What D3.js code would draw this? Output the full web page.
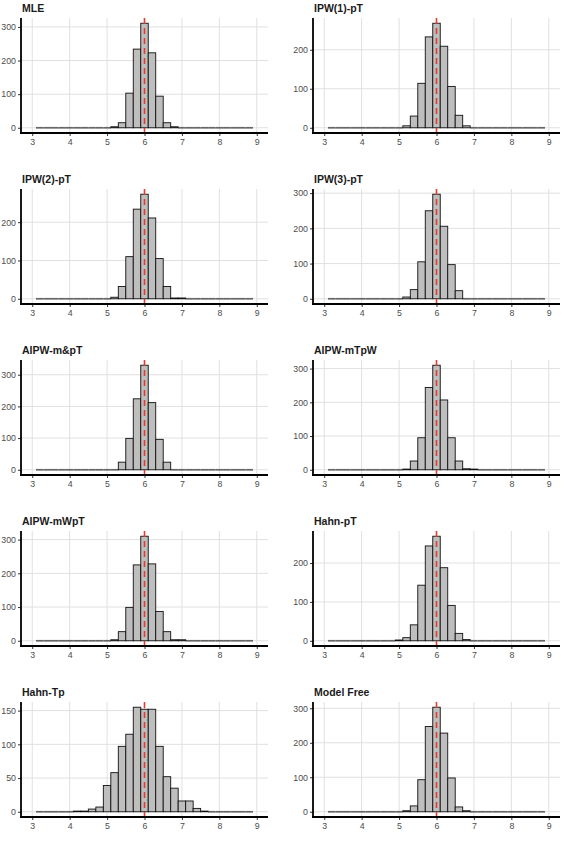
<!DOCTYPE html>
<html>
<head>
<meta charset="utf-8">
<script src="https://cdn.jsdelivr.net/npm/d3@7/dist/d3.min.js"></script>
<style>
body { margin: 0; background: #fff; }
text { font-family: "Liberation Sans", Arial, sans-serif; }
</style>
</head>
<body>
<script>
// ----------------------------------------------- Data ------------------------------------------------ //
// histogram bins (width 0.2), centres from 3.2 to 8.8
var binCenters = [3.2, 3.4, 3.6, 3.8, 4.0, 4.2, 4.4, 4.6, 4.8, 5.0,
                  5.2, 5.4, 5.6, 5.8, 6.0, 6.2, 6.4, 6.6, 6.8, 7.0,
                  7.2, 7.4, 7.6, 7.8, 8.0, 8.2, 8.4, 8.6, 8.8];
var binWidth = 0.2;
var trueValue = 6;

var titles = ["MLE", "IPW(1)-pT", "IPW(2)-pT", "IPW(3)-pT", "AIPW-m&pT",
              "AIPW-mTpW", "AIPW-mWpT", "Hahn-pT", "Hahn-Tp", "Model Free"];

var mle       = [0,0,0,0,0, 0,0,0,0,0, 3,15,103,234,311, 223,94,15,3,0, 0,0,0,0,0, 0,0,0,0];
var ipw1      = [0,0,0,0,0, 0,0,0,0,0, 5,30,114,233,268, 209,106,32,5,0, 0,0,0,0,0, 0,0,0,0];
var ipw2      = [0,0,0,0,0, 0,0,0,0,0, 4,32,110,234,273, 211,105,32,2,2, 0,0,0,0,0, 0,0,0,0];
var ipw3      = [0,0,0,0,0, 0,0,0,0,0, 5,26,105,250,297, 206,97,23,0,0, 0,0,0,0,0, 0,0,0,0];
var aipwMpT   = [0,0,0,0,0, 0,0,0,0,0, 0,24,99,224,330, 212,96,24,0,0, 0,0,0,0,0, 0,0,0,0];
var aipwMTpW  = [0,0,0,0,0, 0,0,0,0,0, 2,26,95,244,310, 207,95,26,3,2, 0,0,0,0,0, 0,0,0,0];
var aipwMWpT  = [0,0,0,0,0, 0,0,0,0,0, 3,27,99,225,310, 228,87,27,3,3, 0,0,0,0,0, 0,0,0,0];
var hahnPT    = [0,0,0,0,0, 0,0,0,0,2, 8,41,143,244,269, 188,91,19,3,0, 0,0,0,0,0, 0,0,0,0];
var hahnTp    = [0,0,0,0,0, 1,1,4,7,39, 58,97,115,155,152, 152,97,52,35,16, 16,5,1,0,0, 0,0,0,0];
var modelFree = [0,0,0,0,0, 0,0,0,0,0, 3,17,93,247,303, 228,98,14,3,0, 0,0,0,0,0, 0,0,0,0];

var counts = [mle, ipw1, ipw2, ipw3, aipwMpT, aipwMTpW, aipwMWpT, hahnPT, hahnTp, modelFree];

var xLimits = [3, 9];
var xTicks = [3, 4, 5, 6, 7, 8, 9];
var yTicksWide = [0, 100, 200, 300];
var yTicksNarrow = [0, 50, 100, 150];

// --------------------------------------------- Init SVG ---------------------------------------------- //
var width = 566,
    height = 848;

var svg = d3.select("body")
    .append("svg")
    .attr("width", width)
    .attr("height", height);

// ----------------------------------------- Define Parameters ----------------------------------------- //
var col_left = [21, 313],
    panel_w = 247,
    row_top0 = 18,
    row_step = 171,
    panel_h = 115;

var grid_col = "#e0e0e0",
    bar_fill = "#bebebe",
    line_col = "#e8392c",
    label_col = "#4d4d4d";

// ------------------------------------------ Draw Functions ------------------------------------------- //
function draw_panel(title, data, i) {
    var col = i % 2,
        row = Math.floor(i / 2);
    var left = col_left[col],
        right = left + panel_w,
        top = row_top0 + row * row_step,
        bottom = top + panel_h;

    var maxC = d3.max(data);
    var xs = xLimits[1] - xLimits[0];
    var x = d3.scaleLinear()
        .domain([xLimits[0] - 0.05 * xs, xLimits[1] + 0.05 * xs])
        .range([left, right]);
    var y = d3.scaleLinear()
        .domain([-0.05 * maxC, 1.05 * maxC])
        .range([bottom, top]);

    var yTicks = (maxC < 200 ? yTicksNarrow : yTicksWide)
        .filter(function(t) { return t <= 1.05 * maxC; });

    var g = svg.append("g").attr("class", "panel");

    // grid
    g.selectAll(".vgrid")
        .data(xTicks)
        .enter().append("line")
            .attr("x1", function(d) { return x(d); })
            .attr("x2", function(d) { return x(d); })
            .attr("y1", top)
            .attr("y2", bottom)
            .attr("stroke", grid_col)
            .attr("stroke-width", 1);
    g.selectAll(".hgrid")
        .data(yTicks)
        .enter().append("line")
            .attr("x1", left)
            .attr("x2", right)
            .attr("y1", function(d) { return y(d); })
            .attr("y2", function(d) { return y(d); })
            .attr("stroke", grid_col)
            .attr("stroke-width", 1);

    var bins = binCenters.map(function(c, k) { return {c: c, n: data[k]}; });

    // empty bins drawn as flat lines
    g.selectAll(".zero")
        .data(bins.filter(function(d) { return d.n == 0; }))
        .enter().append("line")
            .attr("x1", function(d) { return x(d.c - binWidth / 2); })
            .attr("x2", function(d) { return x(d.c + binWidth / 2); })
            .attr("y1", y(0))
            .attr("y2", y(0))
            .attr("stroke", "#666")
            .attr("stroke-width", 1.7);

    // bars
    g.selectAll(".bar")
        .data(bins.filter(function(d) { return d.n > 0; }))
        .enter().append("rect")
            .attr("x", function(d) { return x(d.c - binWidth / 2); })
            .attr("width", function(d) { return x(d.c + binWidth / 2) - x(d.c - binWidth / 2); })
            .attr("y", function(d) { return y(d.n); })
            .attr("height", function(d) { return y(0) - y(d.n); })
            .attr("fill", bar_fill)
            .attr("stroke", "#111")
            .attr("stroke-width", 0.9);

    // true value line
    g.append("line")
        .attr("x1", x(trueValue))
        .attr("x2", x(trueValue))
        .attr("y1", top)
        .attr("y2", bottom)
        .attr("stroke", line_col)
        .attr("stroke-width", 1.6)
        .attr("stroke-dasharray", "6,4");

    // axes
    var ax = g.append("g")
        .attr("transform", "translate(0," + bottom + ")")
        .call(d3.axisBottom(x).tickValues(xTicks).tickFormat(d3.format("d")).tickSize(3).tickPadding(3));
    var ay = g.append("g")
        .attr("transform", "translate(" + left + ",0)")
        .call(d3.axisLeft(y).tickValues(yTicks).tickFormat(d3.format("d")).tickSize(3).tickPadding(2));
    [ax, ay].forEach(function(a) {
        a.select(".domain").remove();
        a.selectAll(".tick line").attr("stroke", "#333");
        a.selectAll(".tick text")
            .attr("fill", label_col)
            .style("font-size", "8.8px")
            .style("font-family", "'Liberation Sans', Arial, sans-serif");
    });

    g.append("line")
        .attr("x1", left).attr("x2", left)
        .attr("y1", top).attr("y2", bottom + 1)
        .attr("stroke", "black")
        .attr("stroke-width", 1.8);
    g.append("line")
        .attr("x1", left - 0.9).attr("x2", right)
        .attr("y1", bottom).attr("y2", bottom)
        .attr("stroke", "black")
        .attr("stroke-width", 1.8);

    // title
    g.append("text")
        .attr("x", left + 1)
        .attr("y", top - 6)
        .attr("font-weight", "bold")
        .attr("font-size", "10.5px")
        .attr("fill", "#1a1a1a")
        .text(title);
}

// ----------------------------------------------- Main ------------------------------------------------ //
titles.forEach(function(t, i) { draw_panel(t, counts[i], i); });
</script>
</body>
</html>
